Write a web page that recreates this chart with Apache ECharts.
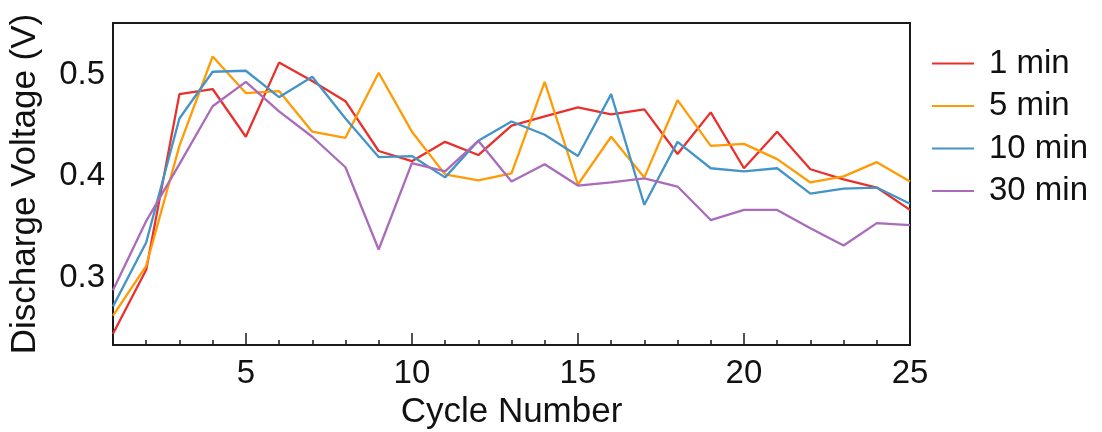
<!DOCTYPE html>
<html>
<head>
<meta charset="utf-8">
<script src="https://cdn.jsdelivr.net/npm/echarts@6/dist/echarts.min.js"></script>
<style>
html,body{margin:0;padding:0;background:#fff;}
#chart{width:1102px;height:432px;}
</style>
</head>
<body>
<div id="chart"></div>
<script>
const cycles = ['1','2','3','4','5','6','7','8','9','10','11','12','13','14','15','16','17','18','19','20','21','22','23','24','25'];
const min1  = [0.245,0.308,0.481,0.486,0.439,0.512,0.494,0.474,0.425,0.415,0.434,0.421,0.450,0.459,0.468,0.461,0.466,0.422,0.463,0.408,0.444,0.407,0.397,0.389,0.367];
const min5  = [0.263,0.312,0.430,0.518,0.482,0.484,0.444,0.438,0.502,0.444,0.402,0.396,0.403,0.493,0.392,0.439,0.399,0.475,0.430,0.432,0.417,0.394,0.400,0.414,0.395];
const min10 = [0.272,0.335,0.457,0.503,0.504,0.478,0.498,0.457,0.419,0.420,0.399,0.435,0.454,0.441,0.420,0.481,0.372,0.434,0.408,0.405,0.408,0.383,0.388,0.389,0.373];
const min30 = [0.288,0.356,0.412,0.469,0.493,0.464,0.439,0.409,0.328,0.413,0.405,0.435,0.395,0.412,0.391,0.394,0.398,0.390,0.357,0.367,0.367,0.349,0.332,0.354,0.352];
const seriesNames = ['1 min','5 min','10 min','30 min'];
const xTickLabels = ['5','10','15','20','25'];
const yTickLabels = ['0.3','0.4','0.5'];

const FONT = '"Liberation Sans", Arial, sans-serif';
const colors = ['#e8312d','#ff9b05','#4494c8','#a96bba'];
const chart = echarts.init(document.getElementById('chart'), null, {renderer:'canvas'});
const dataSets = [min1, min5, min10, min30];

const option = {
  backgroundColor: '#ffffff',
  animation: false,
  grid: {left:113, right:192, top:23, bottom:87, containLabel:false, outerBoundsMode:'none', show:true, borderColor:'#1a1a1a', borderWidth:2, backgroundColor:'#fff'},
  legend: {
    data: seriesNames,
    orient: 'vertical',
    left: 927, top: 42,
    icon: 'rect',
    itemWidth: 42, itemHeight: 2,
    itemGap: 9.5,
    textStyle: {fontFamily: FONT, fontSize: 33, color:'#111', lineHeight: 33, padding:[0,0,0,10]}
  },
  xAxis: [{
    type: 'category',
    data: cycles,
    boundaryGap: false,
    axisLine: {show:true, lineStyle:{color:'#1a1a1a', width:2}},
    axisTick: {show:true, inside:true, length:5, interval:0, lineStyle:{color:'#1a1a1a', width:1.5}},
    axisLabel: {
      interval: function(i, v){ return xTickLabels.indexOf(v) >= 0; },
      margin: 12,
      fontFamily: FONT, fontSize: 33, color:'#111'
    },
    name: 'Cycle Number',
    nameLocation: 'middle',
    nameGap: 48,
    nameTextStyle: {fontFamily: FONT, fontSize: 35, color:'#111'},
    splitLine: {show:false}
  },{
    type: 'category',
    data: cycles,
    boundaryGap: false,
    position: 'bottom',
    axisLine: {show:false},
    axisTick: {show:true, inside:true, length:12, interval: function(i, v){ return xTickLabels.indexOf(v) >= 0; }, lineStyle:{color:'#1a1a1a', width:1.5}},
    axisLabel: {show:false},
    splitLine: {show:false}
  }],
  yAxis: {
    type: 'value',
    min: 0.234, max: 0.551,
    splitNumber: 3,
    axisLine: {show:true, lineStyle:{color:'#1a1a1a', width:2}},
    axisTick: {show:false},
    splitLine: {show:false},
    axisLabel: {
      showMinLabel: false, showMaxLabel: false,
      margin: 8,
      fontFamily: FONT, fontSize: 33, color:'#111',
      formatter: function(v){
        const s = (Math.round(v*1000)/1000).toFixed(1);
        return (yTickLabels.indexOf(s) >= 0 && Math.abs(v - parseFloat(s)) < 1e-6) ? s : '';
      }
    },
    name: 'Discharge Voltage (V)',
    nameLocation: 'middle',
    nameGap: 70,
    nameTextStyle: {fontFamily: FONT, fontSize: 35, color:'#111'}
  },
  series: seriesNames.map((n, i) => ({
    name: n,
    type: 'line',
    data: dataSets[i],
    xAxisIndex: 0,
    symbol: 'none',
    color: colors[i],
    lineStyle: {width: 2.3, color: colors[i]},
    itemStyle: {color: colors[i]},
    z: 2
  }))
};
chart.setOption(option);
</script>
</body>
</html>
